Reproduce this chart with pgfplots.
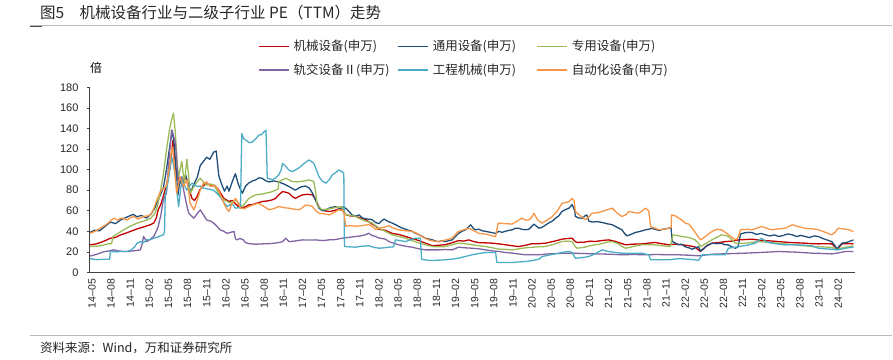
\documentclass[border=0pt]{standalone}
\usepackage{pgfplots}
\pgfplotsset{compat=1.18}
\usepackage{fontspec}
\setmainfont{Liberation Sans}
\newfontfamily\cjk{Noto Sans CJK SC}
\definecolor{cRed}{HTML}{C00000}
\definecolor{cBlue}{HTML}{1F4E79}
\definecolor{cGreen}{HTML}{9BBB59}
\definecolor{cPurple}{HTML}{8064A2}
\definecolor{cCyan}{HTML}{4BACC6}
\definecolor{cOrange}{HTML}{F79646}
\begin{document}
\begin{tikzpicture}[x=1pt,y=1pt]
\path (0,0) rectangle (893,360);
\node[anchor=west, font=\cjk\fontsize{15.5}{17}\selectfont, text=black!85, inner sep=0pt] at (40,347) {图5\hspace{1em}机械设备行业与二级子行业 PE（TTM）走势};
\draw[gray!55, line width=1.3pt] (30,334.5) -- (893,334.5);
\draw[black!70, line width=1.3pt] (30,333.5) -- (42,333.5);
\draw[gray!55, line width=1.3pt] (30,24) -- (893,24);
\node[anchor=west, font=\cjk\fontsize{12.5}{14}\selectfont, text=black!85, inner sep=0pt] at (40,12) {资料来源：Wind，万和证券研究所};
\begin{axis}[
  scale only axis, width=766pt, height=185.4pt,
  at={(90pt,87.3pt)}, anchor=south west,
  xmin=0, xmax=120, ymin=0, ymax=180,
  axis x line*=bottom, axis y line*=left,
  axis line style={-, black!75, line width=0.9pt},
  xtick={0,3,...,117},
  xticklabels={14--05,14--08,14--11,15--02,15--05,15--08,15--11,16--02,16--05,16--08,16--11,17--02,17--05,17--08,17--11,18--02,18--05,18--08,18--11,19--02,19--05,19--08,19--11,20--02,20--05,20--08,20--11,21--02,21--05,21--08,21--11,22--02,22--05,22--08,22--11,23--02,23--05,23--08,23--11,24--02},
  xticklabel style={rotate=90, anchor=east, font=\fontsize{10.5}{12}\selectfont, text=black!85, yshift=-2pt},
  x tick style={draw=none},
  ytick={0,20,...,180},
  y tick style={black!75, line width=0.6pt},
  tick align=outside, major tick length=3pt,
  yticklabel style={font=\fontsize{11}{12}\selectfont, text=black!85, xshift=-5pt},
  /pgf/number format/assume math mode=true,
  ylabel={倍},
  ylabel style={font=\cjk\fontsize{12}{13}\selectfont, rotate=-90, at={(axis description cs:0.008,1.104)}, anchor=center},
  legend columns=3,
  legend image code/.code={\draw[#1, line width=1.7pt, line cap=butt] (0pt,0pt) -- (30pt,0pt);},
  legend style={draw=none, fill=none, at={(axis description cs:0.2193,1.254)}, anchor=north west, inner sep=0pt,
    font=\cjk\fontsize{12.5}{14}\selectfont, text=black!85, row sep=11.5pt,
    nodes={inner sep=0pt},
    /tikz/every odd column/.append style={column sep=4pt},
    /tikz/every even column/.append style={column sep=3.5pt}},
  every axis plot/.append style={no marks, line width=1.3pt, line join=round},
  clip=false,
]
% 机械设备 red
\addplot[cRed] coordinates {(0,27) (0.8,27.5) (1.6,29) (2.4,31) (3.2,33.3) (4,34) (4.8,36.5) (5.5,38) (6.3,39.8) (7,41.5) (7.7,43) (8.3,44) (8.9,45.3) (9.5,46.5) (10,48) (10.4,53) (10.7,60.9) (11.1,66) (11.5,73.9) (12,85) (12.6,103) (13,128) (13.3,112) (13.6,93) (14,88) (14.4,86.8) (14.8,92) (15.2,90) (15.6,80) (16,72) (16.4,70) (16.8,73.9) (17.2,80) (17.6,83.6) (18.2,86) (18.9,85) (19.5,84) (20,82) (20.5,77) (21,72) (21.8,69) (22.3,70) (22.8,67) (23.3,64) (23.9,62.5) (24.4,64) (24.9,65.7) (25.5,66) (26,67) (26.5,68) (27,69) (27.8,69.5) (28.6,70.6) (29.1,72) (29.6,75.4) (30.2,78.6) (30.7,78) (31.2,77) (31.7,74) (32.2,72) (32.8,74) (33.3,75.4) (34.1,76) (34.9,75.4) (35.4,70.6) (35.8,65) (36.2,61) (36.8,60) (37.5,59.3) (38.2,60) (39,61.5) (39.5,61) (40.1,56.3) (40.8,55) (41.6,54.6) (42.4,53) (43.2,51.5) (44,48) (44.8,45) (45.3,42) (46.3,41) (47.4,38) (48.4,37) (49.5,35) (50.5,33) (51.6,31) (52.6,28.5) (53.7,26) (54.7,26.5) (55.7,27) (56.8,29) (57.8,31) (58.6,30.5) (59.4,31.7) (60.2,30) (61,29) (62,28.8) (63.1,28.5) (64.1,27.8) (65.1,27) (66.2,26) (67.2,25.2) (68.3,26.5) (69.3,28) (70.4,28) (71.4,28.5) (72.5,30) (73.5,31.5) (74,32.4) (74.8,33) (75.6,33.3) (76.1,30) (76.4,29.2) (77.5,29.5) (78.4,30.5) (79.2,30.1) (80.2,31) (81.3,31.7) (82.2,30.5) (83.2,28.5) (84,26.9) (85,27.5) (86.5,27.8) (87.5,28.5) (88.6,29.2) (89.6,28) (90.7,27) (91.8,27.5) (92.8,27) (93.9,26) (94.8,25) (95.7,20.4) (96.5,25) (97.5,28.5) (98.5,29) (99.6,30) (100.6,30.5) (101.7,31.7) (102.7,32) (103.8,32.4) (104.8,31.5) (105.9,31) (107,30.5) (108,30) (109,29.5) (110.1,29) (111.1,28.8) (112.1,28.5) (113.2,28) (114.2,27.8) (115.2,28) (116.3,27.8) (116.8,25) (117.1,22.6) (117.5,25) (117.9,27.8) (118.8,28) (119.7,27.8)};
\addlegendentry{\makebox[100pt][l]{机械设备(申万)}}
% 通用设备 blue
\addplot[cBlue] coordinates {(0,39) (0.7,41) (1.5,40.5) (2.2,44) (3.2,49) (4,47.5) (4.8,51) (5.5,53) (6.2,55) (6.8,56.5) (7.4,54) (8,55.5) (8.9,53) (9.6,57) (10.2,63) (10.8,72) (11.5,82) (12,100) (12.5,122) (12.9,138) (13.2,125) (13.5,100) (13.8,75) (14.1,90) (14.5,84) (15,95) (15.4,86) (15.8,78) (16.3,86) (16.8,92) (17.3,104) (17.8,108) (18.3,112) (18.8,110) (19.4,117) (19.8,118) (20.2,94) (20.7,85) (21.1,79) (21.5,84) (21.8,79) (22.3,88) (22.8,96) (23.3,85) (23.9,77) (24.4,84) (24.9,87) (25.5,89) (26,90) (26.5,92) (27,91.5) (27.6,89) (28.1,88) (28.8,89) (29.6,88) (30.4,86) (31.2,83.5) (32.2,80) (33,83) (33.8,84) (34.4,82) (34.9,77) (35.4,70) (35.9,62.5) (36.5,60) (37,61) (37.7,63) (38.5,64) (39.2,62) (39.8,64) (40.5,60) (41.1,56) (41.6,54.6) (42.2,56) (42.7,53) (43.4,52) (44.2,51.5) (44.8,48.5) (45.3,47.5) (45.7,50) (46.1,52) (46.6,50) (47.4,48) (47.9,46.5) (48.4,44.8) (49,43) (49.5,42) (50,41) (50.5,40) (51.1,38) (51.6,36.6) (52.1,35) (52.6,33.3) (53.2,32.5) (53.7,31.7) (54.2,30.5) (54.7,30) (55.2,31) (55.7,30) (56.3,31) (56.8,31.7) (57.3,35) (57.8,38) (58.3,40) (58.9,41.5) (59.3,44) (59.7,46.3) (60.1,43) (60.4,41.5) (61,42) (61.5,40.5) (62,40) (62.8,39) (63.6,38) (64.1,40) (64.6,39) (65.1,40) (65.7,41) (66.2,41.5) (66.7,43) (67.2,43) (67.7,42) (68.3,41.5) (68.8,42) (69.3,45) (69.6,47) (70.4,43) (70.9,44) (71.9,48) (72.5,50) (73,52.8) (73.5,55) (74,59.3) (74.5,61) (75.1,62.5) (75.6,66) (76,60) (76.1,54.5) (76.6,53) (77.2,52.8) (77.6,55) (77.9,56) (78.2,50) (78.8,49) (79.5,49.5) (80.3,48.6) (81,47.5) (81.9,46.4) (82.6,44) (83.4,41.5) (83.8,38) (84.2,35.6) (84.8,37) (85.5,38.9) (86.3,40) (87.1,41.5) (87.6,42) (88.1,43) (88.6,42) (89.2,40.8) (89.8,42) (90.7,43) (91.1,43.5) (91.3,30) (91.8,28.5) (92.3,27) (92.8,27.5) (93.3,25) (93.9,24) (94.4,22.6) (94.9,24) (95.4,25) (95.7,21) (96.2,23) (96.8,26.5) (97.5,28.5) (98.2,28) (99,28.5) (99.5,27) (100.1,26.8) (100.6,25) (101.2,23.6) (101.6,25) (102,37.5) (102.6,38.5) (103.2,39) (103.8,38.8) (104.5,37) (105.2,38) (105.9,36.6) (106.6,35.5) (107.3,36.5) (108,35) (108.7,36) (109.4,37.5) (110.1,36.6) (110.8,35) (111.5,36) (112.1,35) (112.8,34) (113.5,35.5) (114.2,35) (114.9,33) (115.6,31.5) (116.3,30) (116.8,26) (117.1,22.6) (117.5,26) (117.9,28.5) (118.5,29) (119,30) (119.7,31.7)};
\addlegendentry{\makebox[100pt][l]{通用设备(申万)}}
% 专用设备 green
\addplot[cGreen] coordinates {(0,25.3) (1,25.5) (2,26.5) (3,28) (3.4,28) (3.6,35) (4.4,38) (5.3,41.5) (6.3,45) (7.4,48) (8.2,49.5) (8.9,51) (9.6,53) (10.2,57.6) (10.6,65) (11,77) (11.5,95) (12,119) (12.5,140) (12.8,148) (13.1,155) (13.4,135) (13.7,105) (13.9,93) (14.2,102) (14.4,108) (14.8,86.8) (15.2,110) (15.5,92) (15.7,77) (16,80) (16.3,83.6) (16.8,88) (17.3,91.6) (17.8,88) (18.3,85) (18.9,86) (19.4,85) (19.9,80) (20.4,73.9) (21.2,70) (22,67.5) (22.8,70.6) (23.4,67) (23.9,64) (24.4,68) (24.9,72) (25.5,74) (26,75.4) (26.8,76) (27.5,77) (28.3,78) (29.1,80) (29.5,81) (29.6,88.4) (30.2,90) (30.7,91.6) (31.2,90) (31.7,88.4) (32.4,88) (33,88.4) (33.7,89) (34.3,90) (35.1,88.4) (35.4,78) (35.6,65.7) (36,63) (36.4,61) (37.2,61.5) (38,62.5) (38.8,63.5) (39.5,64) (40.1,56.3) (40.8,55.5) (41.6,54.6) (42.4,52) (43.2,50) (44.2,48.2) (45.3,43) (46.3,40) (47.4,36.6) (48.4,35) (49.5,33.3) (50.5,31) (51.6,28.5) (52.6,27) (53.7,25.2) (54.7,25) (55.7,25.2) (56.8,27) (57.8,28.5) (58.8,28) (59.9,27) (61,26) (62,25.2) (63.1,24) (64.1,22.7) (65.1,22.5) (66.2,22) (67.2,23) (68.3,24) (69.3,24.5) (70.4,25) (71.4,25.2) (72.5,27) (73.5,29) (74,30) (74.8,30.5) (75.6,30) (76.1,25) (76.4,23.6) (77.5,24.5) (78.4,26) (79.2,26.9) (80.2,28) (81.1,29.5) (81.9,30) (82.8,28) (83.5,25) (84,23.6) (85,25) (86.5,26.9) (87.5,27) (88.6,26.9) (89.6,26) (90.5,25.5) (91,25.2) (91.4,36.6) (92,36) (92.8,35) (93.9,34) (94.8,32) (95.4,28.5) (95.7,25.2) (96.5,28) (97.5,31.7) (98.2,34) (99,36.6) (99.6,36) (100.1,35) (100.6,32) (101.2,28.5) (102,28.5) (102.7,28.5) (104,29.5) (105.3,30) (106.6,29) (108,28.5) (109.3,27.5) (110.6,26.8) (111.9,26) (113.2,25.2) (114.5,25) (115.8,24.6) (116.5,24) (117.1,22) (117.7,23.5) (118.4,24.6) (119,25) (119.7,25.9)};
\addlegendentry{\makebox[100pt][l]{专用设备(申万)}}
% 轨交设备II purple
\addplot[cPurple] coordinates {(0,16) (1,17.5) (2.1,20) (3,21) (3.7,22) (4.5,21) (5.2,20.5) (5.8,20.4) (6.8,21) (7.9,22) (8.2,28) (8.4,35) (8.7,32) (8.9,30) (9.4,32) (10,35) (10.4,40) (10.7,44.7) (11.1,55) (11.5,70.6) (12,77) (12.4,110) (12.8,138.5) (13.1,133) (13.4,125.8) (13.7,100) (13.9,87) (14.2,92) (14.4,93) (14.7,80) (15,70.6) (15.3,62) (15.5,57.6) (15.9,55) (16.3,52.8) (16.8,57) (17.3,60.9) (17.8,56) (18.3,51) (18.9,50) (19.4,48) (19.9,45) (20.4,41.5) (21,40) (21.5,38) (22,39) (22.6,39.8) (22.8,33) (23,31.7) (23.5,33) (24,32) (24.4,29) (25,28) (26,27.5) (27,27.8) (28,28) (29,28.5) (29.6,29.1) (30.2,30) (30.7,33.3) (31.2,30) (32,30.5) (33.3,31.7) (34.4,31.5) (35.4,31.7) (36.5,31) (37.5,31.7) (38.5,32) (39.5,33.3) (40.5,34) (41.6,35) (42.4,35.5) (43.2,36.6) (43.7,38.2) (44.2,36) (44.8,35) (45.3,33.5) (46.3,32.5) (46.9,30) (47.6,28.5) (48.4,26.9) (49.5,25.5) (50.5,24.6) (51.6,23) (52.6,22) (53.7,22) (54.7,22) (55.7,22.3) (56.8,22) (57.8,24.6) (58.8,24) (59.9,23.6) (61,23) (62,22) (63.1,21) (64.1,20.4) (65.1,19.5) (66.2,18.8) (67.2,18) (68.3,17.2) (69.3,17.2) (70.4,17.2) (71.9,18.1) (73.5,18.5) (75.1,18.8) (77.1,18.5) (79.2,18.1) (81.3,17.8) (83.4,17.2) (85.2,17.5) (87.1,17.2) (88.9,17.5) (90.7,17.2) (92.3,17.2) (93.9,16.8) (95.4,16.2) (96.5,17) (97.5,17.8) (100.1,18.3) (102.7,18.8) (105.3,19.5) (108,20.4) (110.6,19.8) (113.2,18.8) (114.8,18.5) (116.3,18.1) (117.3,19) (118.4,20.4) (119.7,20.4)};
\addlegendentry{\makebox[100pt][l]{轨交设备Ⅱ(申万)}}
% 工程机械 cyan
\addplot[cCyan] coordinates {(0,13.5) (1,12.5) (2,12.8) (2.7,12.9) (3.1,13) (3.2,20.4) (4.2,20) (5,20.5) (5.8,20.4) (6.5,22) (7,25) (7.4,28.5) (7.9,30) (8.4,29) (8.9,31.7) (9.5,32) (10,33.3) (10.8,35) (11.5,36.6) (11.7,40) (11.8,73.9) (12.3,90) (12.8,113) (13.1,105) (13.4,93) (13.7,75) (13.9,64.1) (14.2,80) (14.4,90) (14.8,85) (15.2,80) (15.6,84) (16,86.8) (16.4,85) (16.8,83.6) (17.3,84) (17.8,82) (18.6,81) (19.4,80) (19.9,77) (20.4,73.9) (21,68) (21.5,64.1) (22,66) (22.5,65.7) (22.8,62.5) (23.3,63) (23.6,62.5) (23.8,135) (24.1,130) (24.4,128.8) (25,126) (25.5,127) (26,130) (26.5,133.5) (26.9,134) (27.3,136.7) (27.6,138.4) (27.8,91.6) (28.2,91) (28.6,90) (29.1,92) (29.6,94.8) (30,100) (30.2,106) (30.7,103) (31.2,99.6) (31.7,98) (32.2,99.6) (32.6,101) (33,102.8) (33.6,106) (34.3,109.3) (34.7,108) (35.1,106) (35.5,100) (35.9,93.2) (36.4,89) (37,86.8) (37.5,90) (38,94.8) (38.5,97) (39,99.6) (39.5,98) (39.8,96.5) (39.9,25.3) (40.5,25) (41.6,24.6) (42.6,25.5) (43.7,26) (44.5,24.5) (45.3,23.6) (46.1,24) (46.9,24.6) (47.6,25) (47.9,31.7) (48.7,31) (49.5,30) (50.3,32) (51,33.3) (51.8,33.3) (52,12.9) (52.8,12) (53.7,11.6) (54.7,12) (55.7,12.3) (56.8,13) (57.8,13.9) (58.8,15.5) (59.9,17.2) (61,18.5) (62,19.4) (63,19.4) (63.6,19.4) (63.8,9.7) (65,9.7) (66.2,9.7) (67.2,10.2) (68.3,10.7) (69.3,11.5) (70.4,13) (70.9,15.5) (72,17) (73,18.1) (74,19.5) (75.1,20.4) (75.6,19.4) (76.1,13.9) (77.2,14.5) (78.2,15.5) (79.3,18.5) (80.3,22) (81.3,20.4) (82.4,19.5) (83.4,18.8) (85,18.8) (86.5,18.8) (87.6,17.2) (87.9,12.3) (89.3,12.3) (90.7,12.3) (92.3,13.5) (93.9,12.9) (94.9,12.3) (95.4,11.8) (96,17.2) (97.5,17.2) (99.6,17.2) (100.1,23.6) (101.7,25.2) (103,26.5) (104.3,28.5) (105.3,33.3) (106,30) (106.9,28.5) (108,27.5) (109,26.8) (110,27) (111.1,26.8) (112.2,26.5) (113.2,25.9) (114.2,23.6) (115.3,23) (116.3,22.6) (117.3,22) (118.4,23.6) (119.7,24.6)};
\addlegendentry{\makebox[100pt][l]{工程机械(申万)}}
% 自动化设备 orange
\addplot[cOrange] coordinates {(0,38.2) (0.8,40) (1.6,43) (2.4,46) (3,49) (3.7,52.8) (4.3,51) (5,53) (5.8,51) (6.3,53) (6.8,54.4) (7.6,52) (8.4,54.4) (9,55) (9.5,56) (10,62) (10.5,70.6) (11,78) (11.3,80.6) (12,83.6) (12.4,100) (12.8,119) (13,122) (13.2,106) (13.6,77) (14.1,93) (14.4,88) (14.7,83.6) (15.2,90) (15.5,78) (15.7,67.5) (16.3,61) (16.6,66) (17,73.9) (17.4,82) (17.8,86.8) (18.3,88) (18.9,83.6) (19.5,85) (20,82) (20.5,75) (21,67.5) (21.4,62) (21.8,59.3) (22.2,66) (22.5,69) (22.8,72) (23.2,68) (23.6,62.5) (24.2,62) (24.9,64.1) (25.7,66) (26.5,67.3) (27.3,64) (28.1,61) (28.8,62) (29.6,64.1) (30.4,63) (31.2,62.5) (32,61.5) (32.8,61) (33.3,63) (33.8,65.7) (34.4,65) (34.9,64.1) (35.4,60) (35.9,57.6) (36.7,57) (37.5,56) (38.2,58) (39,61) (39.5,60.5) (39.8,59.3) (40.1,45) (40.8,45.5) (41.6,45) (42.6,45.5) (43.7,46.6) (44.2,45) (44.8,41.8) (45.3,43) (46.1,44) (46.9,45.4) (47.6,43) (48.4,41.5) (49.5,40.5) (50.5,40) (51.1,38.5) (51.6,36.6) (52.3,34) (53.1,31.7) (53.9,30.5) (54.7,30) (55.7,31.5) (56.8,33.3) (57.3,37) (57.8,40) (58.6,41.5) (59.4,43) (60.2,40.5) (61,38) (61.8,37.5) (62.5,36.6) (63.1,35.5) (63.6,35) (64,48) (65,47.5) (66.2,47.1) (67,50) (67.7,52.8) (68.3,51) (68.8,51) (69.3,54) (69.6,57.6) (70.1,52) (70.4,50) (70.9,48) (71.7,51) (72.5,54.4) (73.3,60) (74,67.3) (74.6,68) (75.1,68.9) (75.6,72.1) (75.9,70) (76.1,59.3) (76.9,55) (77.7,51.3) (78.2,54) (78.7,57.6) (79.5,58) (80.3,59.3) (81.1,61) (81.9,62.5) (82.6,58) (83.4,54.4) (84,56) (84.5,59.3) (85.2,58.5) (86,57.6) (86.6,60) (87.1,62.5) (87.6,60) (87.9,44.7) (88.6,43) (89.2,41.5) (90,42) (90.7,43) (91.1,43.5) (91.2,56) (91.8,55) (92.3,52.8) (92.8,51) (93.3,48) (93.9,47) (94.4,43) (95,38) (95.7,31.7) (96.5,35) (97,37.5) (97.5,39.8) (98.3,42) (99,41.5) (99.6,39) (100.1,36.6) (100.7,34) (101.2,31.7) (101.6,34) (102,41.5) (103,42) (103.8,41.5) (104.5,43) (105.3,44.7) (106.1,43) (106.9,41.5) (108,42.5) (109,43) (110.1,46.4) (110.8,45) (111.5,44) (112.1,43) (113.2,42.5) (114.2,41.5) (115.3,39) (116.3,36.6) (116.8,39) (117.3,43) (118,42.5) (119,41.5) (119.7,39.8)};
\addlegendentry{\makebox[100pt][l]{自动化设备(申万)}}
\end{axis}
\end{tikzpicture}
\end{document}
